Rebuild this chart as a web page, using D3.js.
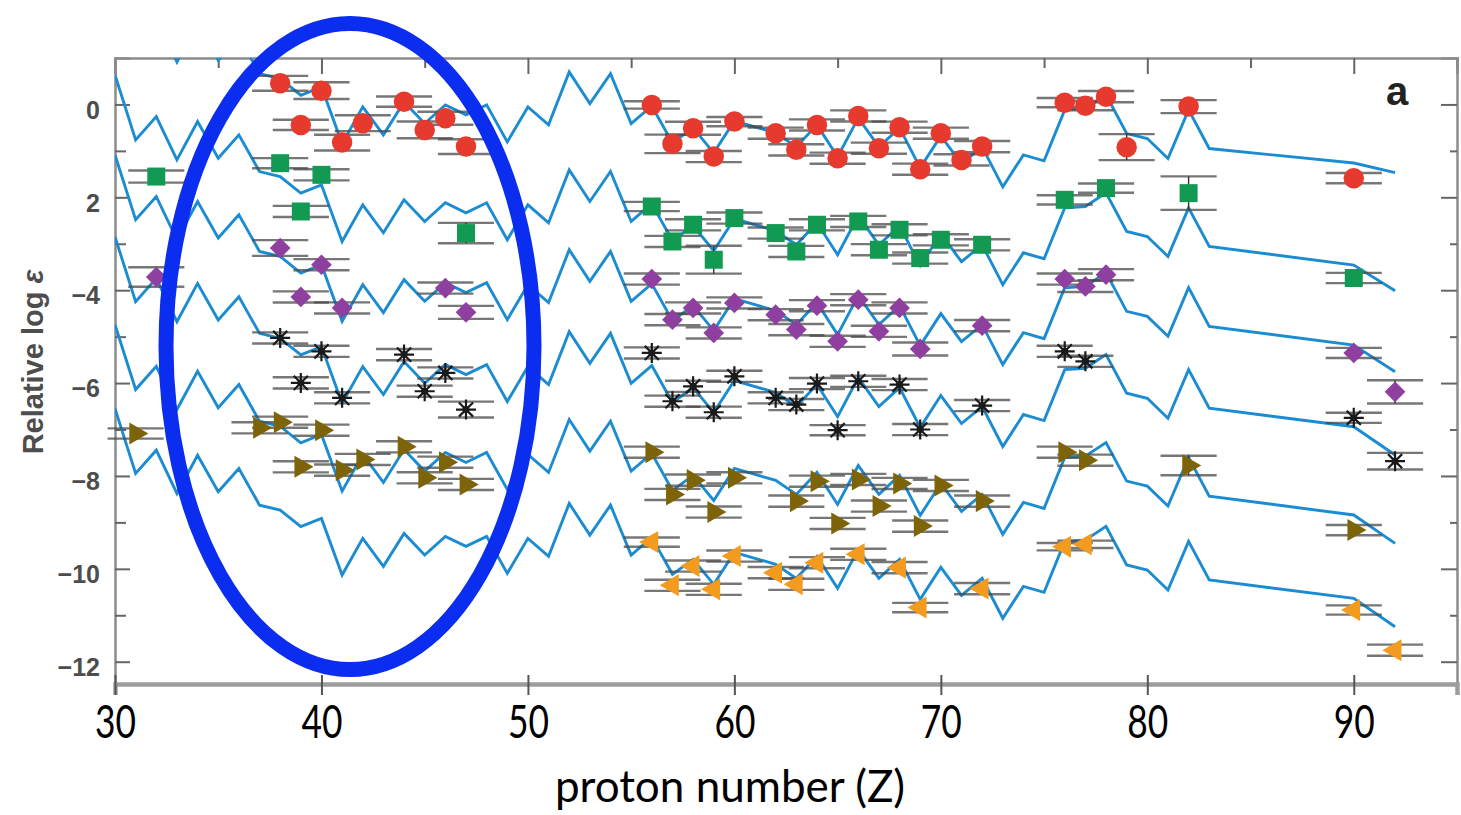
<!DOCTYPE html>
<html><head><meta charset="utf-8">
<script src="https://cdn.jsdelivr.net/npm/d3@7"></script>
<style>body{margin:0;background:#fff} svg{display:block}</style>
</head><body>
<svg id="c" width="1461" height="815"></svg>
<script>
// ---- model curve (scaled solar r-process pattern), base layer values ----
const modelZ = [30,31,32,33,34,35,36,37,38,39,40,41,42,43,44,45,46,47,48,49,50,51,52,53,54,55,56,57,58,59,60,
                62,63,64,65,66,67,68,69,70,71,72,73,74,75,76,77,78,79,80,81,82,83];
const modelBase = [0.634,-0.763,-0.262,-1.194,-0.370,-1.157,-0.656,-1.445,-1.553,-1.910,-1.731,-2.951,-2.161,-2.763,-2.054,-2.520,-2.118,-2.333,-2.118,-2.914,-2.161,-2.548,-1.409,-2.090,-1.445,-2.520,-2.140,-2.935,-2.613,-3.151,-2.462,
                   -2.720,-3.022,-2.548,-3.237,-2.398,-3.022,-2.613,-3.473,-2.785,-3.387,-3.022,-3.882,-3.194,-3.323,-2.226,-2.198,-1.903,-2.735,-2.843,-3.273,-2.226,-3.058];
const starNames = ["red","green","purple","black","olive","orange"];
const modelOffset = [2.108, 0, -1.720, -3.484, -5.376, -7.183];
const thModel = [-1.262, -3.458, -5.181, -6.940, -8.841, -10.635];
const uModel  = [-1.470, -4.012, -5.755, -7.550, -9.453, -11.247];

// ---- observed abundances ----
const redZ = [38,39,40,41,42,44,45,46,47,56,57,58,59,60,62,63,64,65,66,67,68,69,70,71,72,76,77,78,79,82,90];
const redV = [0.456,-0.441,0.297,-0.822,-0.404,0.060,-0.548,-0.297,-0.908,-0.011,-0.849,-0.512,-1.123,-0.370,-0.619,-0.978,-0.441,-1.157,-0.247,-0.942,-0.490,-1.394,-0.619,-1.194,-0.908,0.039,-0.026,0.168,-0.920,-0.047,-1.587];
const redE = [0.16,0.11,0.18,0.17,0.17,0.11,0.18,0.14,0.16,0.08,0.20,0.14,0.12,0.10,0.12,0.12,0.12,0.12,0.12,0.12,0.12,0.12,0.12,0.12,0.12,0.10,0.10,0.12,0.28,0.14,0.11];

const greenZ = [32,38,39,40,47,56,57,58,59,60,62,63,64,66,67,68,69,70,72,76,78,82,90];
const greenV = [-1.553,-1.265,-2.305,-1.516,-2.770,-2.198,-2.951,-2.591,-3.344,-2.447,-2.770,-3.166,-2.591,-2.520,-3.129,-2.699,-3.308,-2.914,-3.022,-2.054,-1.802,-1.910,-3.738];
const greenE = [0.13,0.11,0.12,0.12,0.22,0.10,0.12,0.12,0.30,0.12,0.12,0.12,0.12,0.12,0.12,0.12,0.12,0.12,0.12,0.10,0.10,0.36,0.11];

const purpleZ = [32,38,39,40,41,46,47,56,57,58,59,60,62,63,64,65,66,67,68,69,72,76,77,78,90,92];
const purpleV = [-3.716,-3.092,-4.146,-3.452,-4.383,-3.953,-4.477,-3.759,-4.634,-4.383,-4.920,-4.275,-4.527,-4.849,-4.333,-5.101,-4.204,-4.886,-4.383,-5.265,-4.763,-3.759,-3.918,-3.667,-5.351,-6.189];
const purpleE = [0.21,0.17,0.12,0.12,0.12,0.12,0.14,0.12,0.12,0.12,0.12,0.12,0.12,0.12,0.12,0.12,0.12,0.12,0.12,0.14,0.12,0.12,0.12,0.12,0.11,0.25];

const blackZ = [38,39,40,41,44,45,46,47,56,57,58,59,60,62,63,64,65,66,68,69,72,76,77,90,92];
const blackV = [-5.028,-5.996,-5.316,-6.318,-5.387,-6.176,-5.781,-6.570,-5.351,-6.391,-6.069,-6.628,-5.854,-6.318,-6.462,-6.011,-7.015,-5.961,-6.032,-7.000,-6.484,-5.316,-5.531,-6.748,-7.682];
const blackE = [0.12,0.12,0.12,0.12,0.12,0.12,0.12,0.17,0.12,0.12,0.12,0.12,0.12,0.12,0.12,0.12,0.11,0.12,0.12,0.12,0.12,0.12,0.12,0.11,0.18];

const oliveZ = [31,37,38,39,40,41,42,44,45,46,47,56,57,58,59,60,63,64,65,66,67,68,69,70,72,76,77,82,90];
const oliveV = [-7.086,-6.963,-6.843,-7.802,-7.015,-7.875,-7.645,-7.372,-8.039,-7.703,-8.183,-7.488,-8.398,-8.090,-8.778,-8.039,-8.542,-8.112,-9.022,-8.075,-8.649,-8.161,-9.080,-8.204,-8.542,-7.488,-7.660,-7.774,-9.166];
const oliveE = [0.11,0.12,0.12,0.12,0.12,0.12,0.12,0.12,0.12,0.12,0.12,0.12,0.12,0.12,0.12,0.12,0.12,0.12,0.12,0.12,0.12,0.12,0.12,0.12,0.12,0.12,0.12,0.21,0.11];

const orangeZ = [56,57,58,59,60,62,63,64,66,68,69,72,76,77,90,92];
const orangeV = [-9.424,-10.355,-9.940,-10.441,-9.725,-10.082,-10.333,-9.867,-9.688,-9.974,-10.834,-10.426,-9.523,-9.473,-10.886,-11.753];
const orangeE = [0.10,0.12,0.12,0.12,0.12,0.12,0.12,0.12,0.12,0.12,0.10,0.12,0.08,0.08,0.10,0.12];

// ---- ticks / labels ----
const xMajorTicks = [30,40,50,60,70,80,90];
const xMinorTicks = [35,45,55,65,75,85,95];
const yMajorTicks = [0,-2,-4,-6,-8,-10,-12];
const yMajorLabels = ["0","2","\u22124","\u22126","\u22128","\u221210","\u221212"];
const yMinorTicks = [-1,-3,-5,-7,-9,-11];
const xTitle = "proton number (Z)";
const yTitle = "Relative log ";
const panelLabel = "a";

// ---- layout ----
const L = 115, R = 1457, T = 58, B = 684;
const svg = d3.select("#c");
const x = d3.scaleLinear().domain([30, 95]).range([L, R]);
const y = d3.scaleLinear().domain([-12.48, 1.0]).range([B, T]);

svg.append("defs").append("clipPath").attr("id","plot")
  .append("rect").attr("x",L).attr("y",T).attr("width",R-L).attr("height",B-T);

// ---- axes ----
const gray = "#8c8c8c";
const top1 = svg.append("g").attr("transform",`translate(0,${T})`)
  .call(d3.axisTop(x).tickValues(xMajorTicks).tickSize(-16).tickFormat(""));
const top2 = svg.append("g").attr("transform",`translate(0,${T})`)
  .call(d3.axisTop(x).tickValues(xMinorTicks).tickSize(-10).tickFormat(""));
const rt1 = svg.append("g").attr("transform",`translate(${R},0)`)
  .call(d3.axisRight(y).tickValues(yMajorTicks).tickSize(-16).tickFormat(""));
const rt2 = svg.append("g").attr("transform",`translate(${R},0)`)
  .call(d3.axisRight(y).tickValues(yMinorTicks).tickSize(-7).tickFormat(""));
const lf1 = svg.append("g").attr("transform",`translate(${L},0)`)
  .call(d3.axisLeft(y).tickValues(yMajorTicks).tickSize(-15).tickPadding(15)
        .tickFormat((d,i)=>yMajorLabels[i]));
const lf2 = svg.append("g").attr("transform",`translate(${L},0)`)
  .call(d3.axisLeft(y).tickValues(yMinorTicks).tickSize(-11).tickFormat(""));
const bt = svg.append("g").attr("transform",`translate(0,${B})`)
  .call(d3.axisBottom(x).tickValues(xMajorTicks).tickSize(11).tickPadding(10)
        .tickFormat(d=>String(d)));

[top1,top2,rt1,rt2,lf1,lf2].forEach(g=>{
  g.select(".domain").attr("stroke",gray).attr("stroke-width",2.5);
  g.selectAll(".tick line").attr("stroke","#666").attr("stroke-width",2);
});
[top2,rt2,lf2].forEach(g=>g.select(".domain").remove());
lf1.selectAll(".tick text").attr("fill","#4d4d4d").attr("font-family","Liberation Sans, Arial, sans-serif")
   .attr("font-weight","bold").attr("font-size",25).attr("dy","0.55em");
bt.select(".domain").attr("stroke","#9d9d9d").attr("stroke-width",4.5);
bt.selectAll(".tick line").attr("stroke","#555").attr("stroke-width",2).attr("y1",-9);
bt.selectAll(".tick text").attr("fill","#000").attr("font-family","Lato, sans-serif")
   .attr("font-size",46).attr("dy","0.71em")
   .attr("textLength",41).attr("lengthAdjust","spacingAndGlyphs");

// ---- model curves ----
const line = d3.line().x(d=>x(d[0])).y(d=>y(d[1]));
const curves = svg.append("g").attr("clip-path","url(#plot)");
starNames.forEach((n,i)=>{
  const pts = modelZ.map((z,j)=>[z, modelBase[j]+modelOffset[i]]);
  pts.push([90, thModel[i]]); pts.push([92, uModel[i]]);
  curves.append("path").datum(pts).attr("d",line)
    .attr("fill","none").attr("stroke","#1c8cd2").attr("stroke-width",2.9)
    .attr("stroke-linejoin","miter");
});

// ---- observations ----
const stars = [
  {Z:redZ, V:redV, E:redE, color:"#e63a2e", type:"circle"},
  {Z:greenZ, V:greenV, E:greenE, color:"#129a52", type:"square"},
  {Z:purpleZ, V:purpleV, E:purpleE, color:"#8f3f9f", type:"diamond"},
  {Z:blackZ, V:blackV, E:blackE, color:"#1a1a1a", type:"asterisk"},
  {Z:oliveZ, V:oliveV, E:oliveE, color:"#7d6409", type:"right"},
  {Z:orangeZ, V:orangeV, E:orangeE, color:"#f39b1f", type:"left"}
];
const capHalf = 1.36;
const errG = svg.append("g");
const markG = svg.append("g");
stars.forEach(s=>{
  const data = s.Z.map((z,i)=>({z, v:s.V[i], e:s.E[i]}));
  const g = errG.append("g");
  data.forEach(d=>{
    [d.v+d.e, d.v-d.e].forEach(c=>{
      g.append("line").attr("x1",x(d.z-capHalf)).attr("x2",x(d.z+capHalf))
        .attr("y1",y(c)).attr("y2",y(c))
        .attr("stroke","#4a4a4a").attr("stroke-opacity",0.75).attr("stroke-width",2.4);
    });
    g.append("line").attr("x1",x(d.z)).attr("x2",x(d.z))
      .attr("y1",y(d.v+d.e)).attr("y2",y(d.v-d.e))
      .attr("stroke","#333").attr("stroke-width",1.4);
  });
  const m = markG.append("g");
  const sel = m.selectAll("path").data(data).join("path")
    .attr("transform",d=>{
      let t = `translate(${x(d.z)},${y(d.v)})`;
      if (s.type==="diamond") t += " rotate(45)";
      if (s.type==="right") t += " rotate(90)";
      if (s.type==="left") t += " rotate(-90)";
      return t;
    });
  if (s.type==="asterisk") {
    const r = 10, q = r*0.7071;
    sel.attr("d",`M${-r},0L${r},0M0,${-r}L0,${r}M${-q},${-q}L${q},${q}M${-q},${q}L${q},${-q}`)
      .attr("fill","none").attr("stroke",s.color).attr("stroke-width",2.2);
    m.selectAll("circle").data(data).join("circle")
      .attr("cx",d=>x(d.z)).attr("cy",d=>y(d.v)).attr("r",3.5).attr("fill",s.color);
  } else {
    const sym = {circle:d3.symbolCircle, square:d3.symbolSquare, diamond:d3.symbolSquare,
                 right:d3.symbolTriangle, left:d3.symbolTriangle}[s.type];
    const size = {circle:330, square:324, diamond:215, right:210, left:210}[s.type];
    sel.attr("d",d3.symbol().type(sym).size(size)).attr("fill",s.color);
  }
});

// ---- texts ----
svg.append("text").attr("x",1386).attr("y",105)
  .attr("font-family","Liberation Sans, Arial, sans-serif").attr("font-weight","bold")
  .attr("font-size",40).attr("fill","#222").text(panelLabel);

const yl = svg.append("text").attr("transform","translate(43,362) rotate(-90)")
  .attr("text-anchor","middle").attr("font-family","Liberation Sans, Arial, sans-serif")
  .attr("font-weight","bold").attr("font-size",29).attr("fill","#4d4d4d");
yl.append("tspan").text(yTitle);
yl.append("tspan").attr("font-style","italic").text("\u03b5");

svg.append("text").attr("x",730).attr("y",802).attr("text-anchor","middle")
  .attr("font-family","Lato, sans-serif").attr("font-size",44).attr("fill","#000").text(xTitle);

// ---- annotation ellipse ----
svg.append("ellipse").attr("cx",350).attr("cy",346.5).attr("rx",184).attr("ry",323)
  .attr("fill","none").attr("stroke","#0a2df0").attr("stroke-width",15);
</script>
</body></html>
